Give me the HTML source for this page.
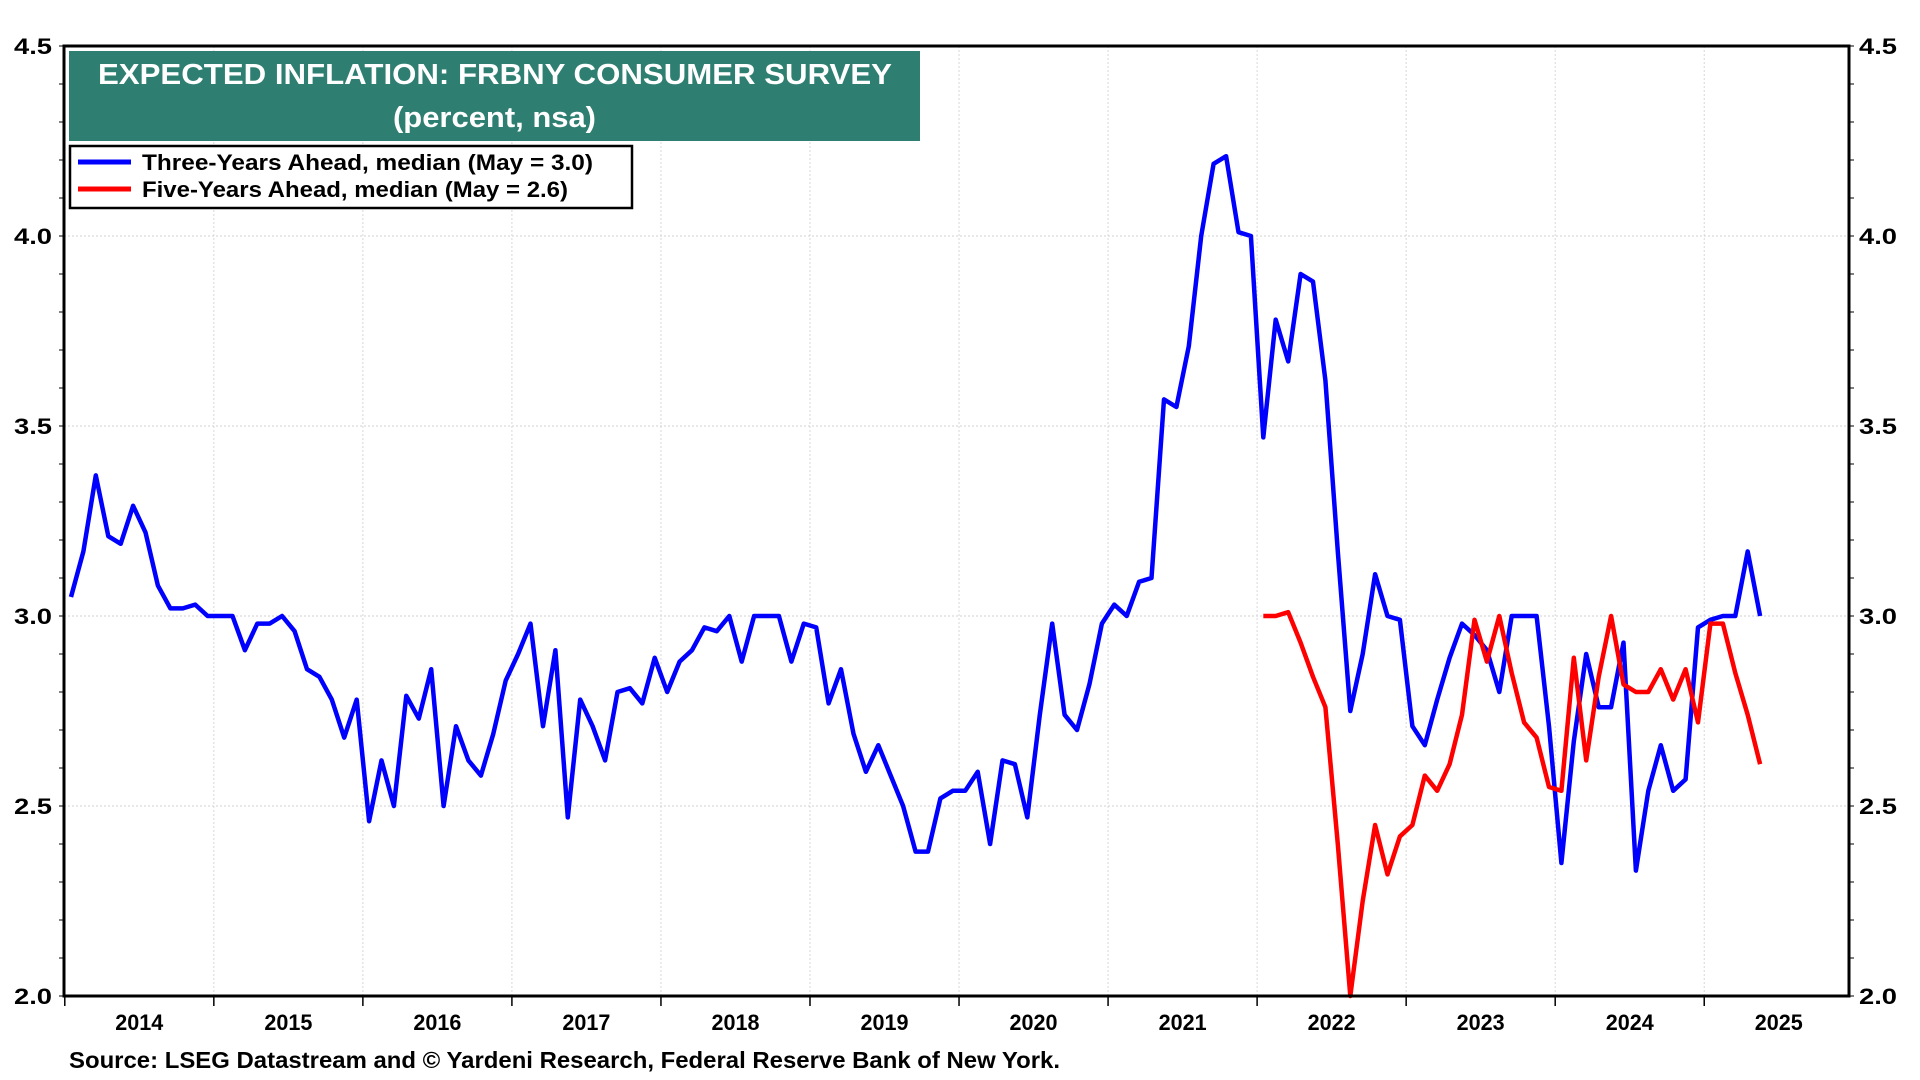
<!DOCTYPE html>
<html><head><meta charset="utf-8"><style>
html,body{margin:0;padding:0;background:#fff;width:1920px;height:1080px;overflow:hidden}
svg{display:block;font-family:"Liberation Sans",Arial,sans-serif}
</style></head><body>
<svg id="chart" width="1920" height="1080" viewBox="0 0 1920 1080"></svg>
<script>
const years = [2014,2015,2016,2017,2018,2019,2020,2021,2022,2023,2024,2025];
const yTicks = [2.0,2.5,3.0,3.5,4.0,4.5];
const yTickLabels = ["2.0","2.5","3.0","3.5","4.0","4.5"];
const threeYear = [3.05,3.17,3.37,3.21,3.19,3.29,3.22,3.08,3.02,3.02,3.03,3.0,3.0,3.0,2.91,2.98,2.98,3.0,2.96,2.86,2.84,2.78,2.68,2.78,2.46,2.62,2.50,2.79,2.73,2.86,2.50,2.71,2.62,2.58,2.69,2.83,2.90,2.98,2.71,2.91,2.47,2.78,
2.71,2.62,2.80,2.81,2.77,2.89,2.80,2.88,2.91,2.97,2.96,3.0,2.88,3.0,3.0,3.0,2.88,2.98,2.97,2.77,2.86,2.69,2.59,2.66,2.58,2.50,2.38,2.38,2.52,2.54,2.54,2.59,2.40,2.62,2.61,2.47,2.74,2.98,2.74,2.70,2.82,2.98,3.03,3.0,3.09,3.10,3.57,3.55,3.71,4.0,4.19,4.21,4.01,4.0,3.47,3.78,3.67,3.90,3.88,3.62,3.17,2.75,2.90,3.11,3.0,2.99,2.71,2.66,2.78,2.89,2.98,2.95,2.91,2.80,3.0,3.0,3.0,2.71,2.35,2.67,2.90,2.76,2.76,2.93,2.33,2.54,2.66,2.54,2.57,2.97,2.99,3.0,3.0,3.17,3.0];
const fiveYearStart = 96;
const fiveYear = [3.0,3.0,3.01,2.93,2.84,2.76,2.40,2.0,2.25,2.45,2.32,2.42,2.45,2.58,2.54,2.61,2.74,2.99,2.88,3.0,2.85,2.72,2.68,2.55,2.54,2.89,2.62,2.84,3.0,2.82,2.80,2.80,2.86,2.78,2.86,2.72,2.98,2.98,2.85,2.74,2.61];

const NS="http://www.w3.org/2000/svg";
const svg=document.getElementById('chart');
const L=64,R=1849,T=46,B=996;
const x0=71, step=12.42;
function xm(i){return x0+i*step;}
function xy(year){return x0-step/2+(year-2014)*12*step;}
function yv(v){return B-(v-2.0)/2.5*(B-T);}
function mk(tag,attrs,parent){const e=document.createElementNS(NS,tag);for(const k in attrs)e.setAttribute(k,attrs[k]);(parent||svg).appendChild(e);return e;}

yTicks.forEach((v,i)=>{
  const g=mk('line',{x1:L,x2:R,y1:yv(v),y2:yv(v),stroke:'#d0d0d0','stroke-width':1,'stroke-dasharray':'2,2'});
  
  
  const tl=mk('text',{x:L-12,y:yv(v)+8,'text-anchor':'end','font-size':22,'font-weight':'bold',fill:'#000',textLength:38,lengthAdjust:'spacingAndGlyphs'});
  tl.textContent=yTickLabels[i];
  
  
  const tr=mk('text',{x:R+10,y:yv(v)+8,'text-anchor':'start','font-size':22,'font-weight':'bold',fill:'#000',textLength:38,lengthAdjust:'spacingAndGlyphs'});
  tr.textContent=yTickLabels[i];
  
  
});
for(let k=0;k<=25;k++){const v=2.0+k*0.1;
  mk('line',{x1:L-5,x2:L,y1:yv(v),y2:yv(v),stroke:'#000','stroke-width':1});
  mk('line',{x1:R,x2:R+5,y1:yv(v),y2:yv(v),stroke:'#000','stroke-width':1});
}
years.forEach((yr,i)=>{
  const x=xy(yr);
  if(i>0&&x<R){const g=mk('line',{x1:x,x2:x,y1:T,y2:B,stroke:'#d8d8d8','stroke-width':1,'stroke-dasharray':'2,2'});
    
    }
  if(x<=R) mk('line',{x1:x,x2:x,y1:B,y2:B+10,stroke:'#000','stroke-width':1.5});
  const t=mk('text',{x:x+6*step-24,y:B+34,'font-size':22,'font-weight':'bold',fill:'#000',textLength:48,lengthAdjust:'spacingAndGlyphs'});
  t.textContent=yr;
  
  
});
const fr=mk('rect',{x:L,y:T,width:R-L,height:B-T,fill:'none',stroke:'#000','stroke-width':3});



function pathFor(arr,start){return arr.map((v,i)=>(i?'L':'M')+xm(start+i).toFixed(1)+','+yv(v).toFixed(1)).join(' ');}
const blue=mk('path',{d:pathFor(threeYear,0),fill:'none',stroke:'#0000ff','stroke-width':4.5,'stroke-linejoin':'round'});


const red=mk('path',{d:pathFor(fiveYear,fiveYearStart),fill:'none',stroke:'#ff0000','stroke-width':4.5,'stroke-linejoin':'round'});


mk('line',{x1:L,x2:R,y1:B,y2:B,stroke:'#000','stroke-width':3});

const tb=mk('rect',{x:69,y:51,width:851,height:90,fill:'#2e7f71'});


const t1=mk('text',{x:98,y:84,'font-size':29,'font-weight':'bold',fill:'#fff',textLength:794,lengthAdjust:'spacingAndGlyphs'});
t1.textContent='EXPECTED INFLATION: FRBNY CONSUMER SURVEY';


const t2=mk('text',{x:393,y:127,'font-size':29,'font-weight':'bold',fill:'#fff',textLength:203,lengthAdjust:'spacingAndGlyphs'});
t2.textContent='(percent, nsa)';


const lg=mk('rect',{x:70,y:146,width:562,height:62,fill:'#fff',stroke:'#000','stroke-width':2.5});


mk('line',{x1:78,x2:131,y1:162,y2:162,stroke:'#0000ff','stroke-width':5});
mk('line',{x1:78,x2:131,y1:189,y2:189,stroke:'#ff0000','stroke-width':5});
const l1=mk('text',{x:142,y:170,'font-size':22,'font-weight':'bold',fill:'#000',textLength:451,lengthAdjust:'spacingAndGlyphs'});
l1.textContent='Three-Years Ahead, median  (May = 3.0)';
l1.setAttribute('xml:space','preserve');


const l2=mk('text',{x:142,y:197,'font-size':22,'font-weight':'bold',fill:'#000',textLength:426,lengthAdjust:'spacingAndGlyphs'});
l2.textContent='Five-Years Ahead, median (May = 2.6)';


const src=mk('text',{x:69,y:1068,'font-size':23,'font-weight':'bold',fill:'#000',textLength:991,lengthAdjust:'spacingAndGlyphs'});
src.textContent='Source: LSEG Datastream and \u00A9 Yardeni Research, Federal Reserve Bank of New York.';


</script>
</body></html>
